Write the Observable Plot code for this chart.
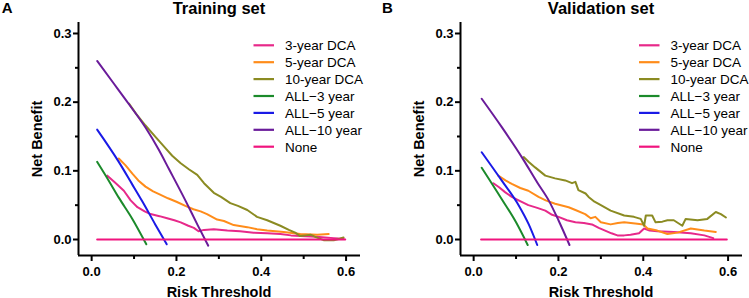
<!DOCTYPE html>
<html><head><meta charset="utf-8">
<script src="https://cdn.jsdelivr.net/npm/d3@7"></script>
<script src="https://cdn.jsdelivr.net/npm/@observablehq/plot@0.6"></script>
<style>
html,body{margin:0;padding:0;background:#fff;}
#wrap{display:flex;width:749px;height:298px;overflow:hidden;}
svg{display:block;}
</style>
</head><body><div id="wrap"></div>
<script>
// ---------- labels / ticks ----------
const seriesNames = ["3-year DCA","5-year DCA","10-year DCA","ALL\u22123 year","ALL\u22125 year","ALL\u221210 year","None"];
const seriesColors = ["#e7298a","#ff8c1a","#8b8b22","#1b8a2a","#1a1ae6","#6a1b9a","#f0147e"];
const seriesCurves = ["linear","linear","linear","monotone-x","monotone-x","monotone-x","linear"];
const xTicks = [0, 0.2, 0.4, 0.6];
const xMinor = [0.1, 0.3, 0.5];
const yTicks = [0, 0.1, 0.2, 0.3];
const yMinor = [0.05, 0.15, 0.25];
const xDomain = [-0.031, 0.634];
const yDomain = [-0.0233, 0.316];

// ---------- Training set ----------
const trainDca3 = [[0.037,0.093],[0.055,0.083],[0.076,0.071],[0.092,0.057],[0.108,0.047],[0.125,0.041],[0.139,0.037],[0.160,0.034],[0.178,0.031],[0.195,0.028],[0.210,0.025],[0.228,0.020],[0.241,0.017],[0.252,0.012],[0.265,0.014],[0.288,0.015],[0.320,0.013],[0.350,0.012],[0.382,0.010],[0.414,0.009],[0.445,0.008],[0.470,0.006],[0.492,0.005],[0.530,0.004],[0.571,0.002],[0.594,0.001]];
const trainDca5 = [[0.064,0.118],[0.080,0.108],[0.096,0.096],[0.110,0.086],[0.127,0.077],[0.145,0.070],[0.159,0.066],[0.180,0.060],[0.200,0.055],[0.221,0.049],[0.240,0.044],[0.257,0.041],[0.272,0.037],[0.296,0.029],[0.312,0.027],[0.335,0.021],[0.367,0.018],[0.390,0.015],[0.414,0.013],[0.453,0.011],[0.492,0.008],[0.532,0.007],[0.559,0.008]];
const trainDca10 = [[0.088,0.198],[0.105,0.183],[0.127,0.166],[0.151,0.149],[0.174,0.133],[0.190,0.122],[0.210,0.111],[0.230,0.102],[0.249,0.094],[0.265,0.082],[0.288,0.068],[0.305,0.062],[0.327,0.053],[0.345,0.049],[0.367,0.043],[0.390,0.033],[0.414,0.028],[0.445,0.020],[0.465,0.014],[0.480,0.010],[0.492,0.005],[0.505,0.006],[0.516,0.007],[0.530,0.003],[0.547,-0.001],[0.571,-0.001],[0.585,0.001],[0.594,0.003]];
const trainAll3 = [[0.013,0.113],[0.040,0.086],[0.064,0.061],[0.096,0.030],[0.129,-0.007]];
const trainAll5 = [[0.013,0.160],[0.064,0.113],[0.095,0.081],[0.119,0.056],[0.150,0.022],[0.177,-0.007]];
const trainAll10 = [[0.013,0.260],[0.050,0.229],[0.088,0.197],[0.127,0.163],[0.158,0.131],[0.182,0.103],[0.221,0.057],[0.250,0.021],[0.275,-0.009]];
const trainNone = [[0.013,0],[0.598,0]];

// ---------- Validation set ----------
const valDca3 = [[0.0465,0.082],[0.060,0.076],[0.074,0.069],[0.090,0.062],[0.106,0.057],[0.129,0.050],[0.150,0.046],[0.169,0.042],[0.185,0.036],[0.200,0.033],[0.220,0.028],[0.240,0.025],[0.260,0.024],[0.279,0.022],[0.295,0.017],[0.310,0.013],[0.325,0.009],[0.339,0.006],[0.355,0.006],[0.370,0.007],[0.390,0.009],[0.402,0.016],[0.415,0.013],[0.433,0.012],[0.472,0.011],[0.512,0.009],[0.544,0.006],[0.565,0.002]];
const valDca5 = [[0.058,0.093],[0.075,0.086],[0.090,0.081],[0.110,0.075],[0.129,0.071],[0.153,0.062],[0.170,0.057],[0.192,0.052],[0.224,0.047],[0.240,0.043],[0.263,0.037],[0.276,0.031],[0.287,0.033],[0.300,0.025],[0.323,0.022],[0.340,0.024],[0.355,0.025],[0.386,0.023],[0.400,0.022],[0.410,0.016],[0.433,0.013],[0.457,0.008],[0.481,0.010],[0.512,0.016],[0.544,0.013],[0.571,0.011]];
const valDca10 = [[0.118,0.120],[0.130,0.113],[0.145,0.105],[0.169,0.093],[0.192,0.089],[0.216,0.086],[0.232,0.082],[0.240,0.084],[0.247,0.072],[0.264,0.067],[0.271,0.062],[0.285,0.055],[0.300,0.050],[0.323,0.042],[0.355,0.035],[0.378,0.033],[0.394,0.030],[0.402,0.020],[0.406,0.035],[0.421,0.035],[0.429,0.025],[0.445,0.026],[0.457,0.028],[0.472,0.028],[0.492,0.020],[0.500,0.030],[0.528,0.028],[0.551,0.030],[0.571,0.040],[0.583,0.037],[0.595,0.032]];
const valAll3 = [[0.019,0.1045],[0.066,0.059],[0.100,0.025],[0.1275,-0.008]];
const valAll5 = [[0.019,0.127],[0.066,0.086],[0.106,0.050],[0.130,0.022],[0.150,-0.008]];
const valAll10 = [[0.019,0.205],[0.066,0.164],[0.1135,0.120],[0.150,0.083],[0.177,0.057],[0.200,0.028],[0.226,-0.008]];
const valNone = [[0.0175,0],[0.597,0]];

const FONT = "'Liberation Sans', Arial, Helvetica, sans-serif";

function panel({series, width, ml, mr, title, letter, letterX, legendDx}) {
  const marks = [
    ...series.map((s, i) => Plot.line(s, {x: d => d[0], y: d => d[1], stroke: seriesColors[i], strokeWidth: 2, curve: seriesCurves[i]})),
    Plot.ruleX([xDomain[0]], {stroke: "#000", strokeWidth: 2}),
    Plot.ruleY([yDomain[0]], {stroke: "#000", strokeWidth: 2}),
    Plot.axisX({ticks: xTicks, tickSize: 6, tickPadding: 5, tickFormat: d3.format(".1f"), fontSize: 13, fontWeight: "bold", strokeWidth: 2, label: null}),
    Plot.axisX({ticks: xMinor, tickSize: 4, tickFormat: () => "", strokeWidth: 2, label: null}),
    Plot.axisY({ticks: yTicks, tickSize: 5, tickPadding: 2, tickFormat: d3.format(".1f"), fontSize: 13, fontWeight: "bold", strokeWidth: 2, label: null}),
    Plot.axisY({ticks: yMinor, tickSize: 3, tickFormat: () => "", strokeWidth: 2, label: null})
  ];
  const svg = Plot.plot({
    width, height: 298,
    marginLeft: ml, marginRight: mr, marginTop: 22, marginBottom: 43,
    x: {domain: xDomain},
    y: {domain: yDomain},
    style: {fontFamily: FONT, background: "#fff", color: "#000", overflow: "visible"},
    marks
  });
  const s = d3.select(svg);
  const left = ml, right = width - mr, cx = (left + right) / 2;
  s.append("text").attr("x", letterX).attr("y", 12.7).attr("text-anchor", "start").attr("font-family", FONT)
    .attr("font-size", 15).attr("font-weight", "bold").attr("fill", "#000").text(letter);
  s.append("text").attr("x", cx).attr("y", 13.5).attr("text-anchor", "middle").attr("font-family", FONT)
    .attr("font-size", 16.5).attr("font-weight", "bold").attr("fill", "#000").text(title);
  s.append("text").attr("x", cx).attr("y", 296.5).attr("text-anchor", "middle").attr("font-family", FONT)
    .attr("font-size", 14.5).attr("font-weight", "bold").attr("fill", "#000").text("Risk Threshold");
  s.append("text").attr("transform", `translate(${left - 36},139) rotate(-90)`).attr("text-anchor", "middle")
    .attr("font-family", FONT).attr("font-size", 14.5).attr("font-weight", "bold").attr("fill", "#000").text("Net Benefit");
  const lg = s.append("g");
  seriesNames.forEach((name, i) => {
    const yy = 45.3 + i * 16.9;
    lg.append("line").attr("x1", left + legendDx).attr("x2", left + legendDx + 20.5)
      .attr("y1", yy).attr("y2", yy).attr("stroke", seriesColors[i]).attr("stroke-width", 2.2);
    lg.append("text").attr("x", left + legendDx + 31.5).attr("y", yy + 4.8).attr("text-anchor", "start")
      .attr("font-family", FONT).attr("font-size", 13.5).attr("fill", "#000").text(name);
  });
  return svg;
}

const wrap = document.getElementById("wrap");
wrap.appendChild(panel({
  series: [trainDca3, trainDca5, trainDca10, trainAll3, trainAll5, trainAll10, trainNone],
  width: 374, ml: 78, mr: 14, title: "Training set", letter: "A", letterX: 1.7, legendDx: 175.5
}));
wrap.appendChild(panel({
  series: [valDca3, valDca5, valDca10, valAll3, valAll5, valAll10, valNone],
  width: 375, ml: 86, mr: 7, title: "Validation set", letter: "B", letterX: 8, legendDx: 179
}));
</script>
</body></html>
